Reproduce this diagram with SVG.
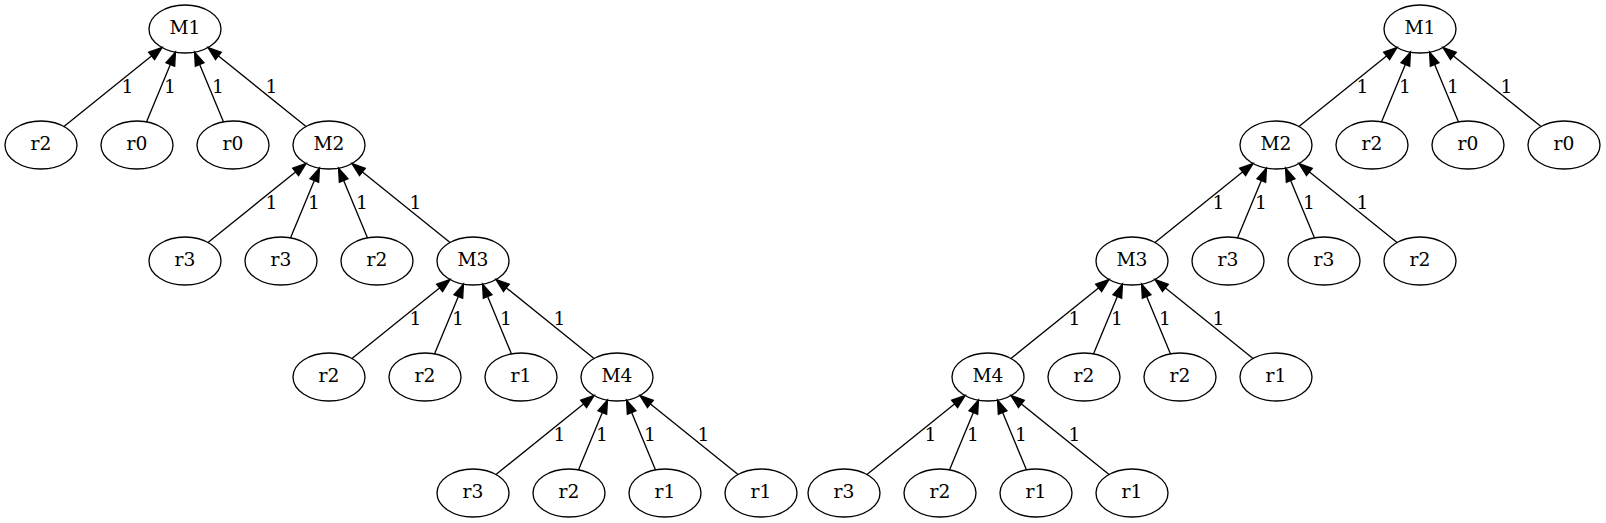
<svg xmlns="http://www.w3.org/2000/svg" width="1606" height="523" viewBox="0 0 1606 523">
<style>
.n ellipse{fill:none;stroke:#000;stroke-width:1.33}
.n text,.lbl text{font-family:"DejaVu Serif","Liberation Serif",serif;font-size:18.67px;text-anchor:middle;fill:#000}
.e line{stroke:#000;stroke-width:1.33;marker-end:url(#ah)}
</style>
<defs>
<marker id="ah" markerUnits="userSpaceOnUse" markerWidth="16" markerHeight="12" refX="13.33" refY="4.67" orient="auto" overflow="visible">
<path d="M0,0 L13.33,4.67 L0,9.33 z" fill="#000" stroke="#000" stroke-width="1.33"/>
</marker>
</defs>
<rect width="1606" height="523" fill="#fff"/>
<g id="edges" class="e">
<line x1="63.95" y1="126.51" x2="162.05" y2="47.49"/>
<line x1="146.57" y1="121.87" x2="175.43" y2="52.13"/>
<line x1="223.43" y1="121.87" x2="194.57" y2="52.13"/>
<line x1="306.05" y1="126.51" x2="207.95" y2="47.49"/>
<line x1="207.95" y1="242.51" x2="306.05" y2="163.49"/>
<line x1="290.57" y1="237.87" x2="319.43" y2="168.13"/>
<line x1="367.43" y1="237.87" x2="338.57" y2="168.13"/>
<line x1="450.05" y1="242.51" x2="351.95" y2="163.49"/>
<line x1="351.95" y1="358.51" x2="450.05" y2="279.49"/>
<line x1="434.57" y1="353.87" x2="463.43" y2="284.13"/>
<line x1="511.43" y1="353.87" x2="482.57" y2="284.13"/>
<line x1="594.05" y1="358.51" x2="495.95" y2="279.49"/>
<line x1="495.95" y1="474.51" x2="594.05" y2="395.49"/>
<line x1="578.57" y1="469.87" x2="607.43" y2="400.13"/>
<line x1="655.43" y1="469.87" x2="626.57" y2="400.13"/>
<line x1="738.05" y1="474.51" x2="639.95" y2="395.49"/>
<line x1="1298.95" y1="126.51" x2="1397.05" y2="47.49"/>
<line x1="1381.57" y1="121.87" x2="1410.43" y2="52.13"/>
<line x1="1458.43" y1="121.87" x2="1429.57" y2="52.13"/>
<line x1="1541.05" y1="126.51" x2="1442.95" y2="47.49"/>
<line x1="1154.95" y1="242.51" x2="1253.05" y2="163.49"/>
<line x1="1237.57" y1="237.87" x2="1266.43" y2="168.13"/>
<line x1="1314.43" y1="237.87" x2="1285.57" y2="168.13"/>
<line x1="1397.05" y1="242.51" x2="1298.95" y2="163.49"/>
<line x1="1010.95" y1="358.51" x2="1109.05" y2="279.49"/>
<line x1="1093.57" y1="353.87" x2="1122.43" y2="284.13"/>
<line x1="1170.43" y1="353.87" x2="1141.57" y2="284.13"/>
<line x1="1253.05" y1="358.51" x2="1154.95" y2="279.49"/>
<line x1="866.95" y1="474.51" x2="965.05" y2="395.49"/>
<line x1="949.57" y1="469.87" x2="978.43" y2="400.13"/>
<line x1="1026.43" y1="469.87" x2="997.57" y2="400.13"/>
<line x1="1109.05" y1="474.51" x2="1010.95" y2="395.49"/>
</g>
<g id="edge-labels" class="lbl">
<text x="127.5" y="92.5">1</text><text x="170" y="92.5">1</text><text x="218" y="92.5">1</text><text x="271.5" y="92.5">1</text>
<text x="271.5" y="208.5">1</text><text x="314" y="208.5">1</text><text x="362" y="208.5">1</text><text x="415.5" y="208.5">1</text>
<text x="415.5" y="324.5">1</text><text x="458" y="324.5">1</text><text x="506" y="324.5">1</text><text x="559.5" y="324.5">1</text>
<text x="559.5" y="440.5">1</text><text x="602" y="440.5">1</text><text x="650" y="440.5">1</text><text x="703.5" y="440.5">1</text>
<text x="1362.5" y="92.5">1</text><text x="1405" y="92.5">1</text><text x="1453" y="92.5">1</text><text x="1506.5" y="92.5">1</text>
<text x="1218.5" y="208.5">1</text><text x="1261" y="208.5">1</text><text x="1309" y="208.5">1</text><text x="1362.5" y="208.5">1</text>
<text x="1074.5" y="324.5">1</text><text x="1117" y="324.5">1</text><text x="1165" y="324.5">1</text><text x="1218.5" y="324.5">1</text>
<text x="930.5" y="440.5">1</text><text x="973" y="440.5">1</text><text x="1021" y="440.5">1</text><text x="1074.5" y="440.5">1</text>
</g>
<g id="L_M1" class="n"><ellipse cx="185" cy="29" rx="36" ry="24"/><text x="185" y="34.3">M1</text></g>
<g id="L_r2a" class="n"><ellipse cx="41" cy="145" rx="36" ry="24"/><text x="41" y="150.3">r2</text></g>
<g id="L_r0a" class="n"><ellipse cx="137" cy="145" rx="36" ry="24"/><text x="137" y="150.3">r0</text></g>
<g id="L_r0b" class="n"><ellipse cx="233" cy="145" rx="36" ry="24"/><text x="233" y="150.3">r0</text></g>
<g id="L_M2" class="n"><ellipse cx="329" cy="145" rx="36" ry="24"/><text x="329" y="150.3">M2</text></g>
<g id="L_r3a" class="n"><ellipse cx="185" cy="261" rx="36" ry="24"/><text x="185" y="266.3">r3</text></g>
<g id="L_r3b" class="n"><ellipse cx="281" cy="261" rx="36" ry="24"/><text x="281" y="266.3">r3</text></g>
<g id="L_r2b" class="n"><ellipse cx="377" cy="261" rx="36" ry="24"/><text x="377" y="266.3">r2</text></g>
<g id="L_M3" class="n"><ellipse cx="473" cy="261" rx="36" ry="24"/><text x="473" y="266.3">M3</text></g>
<g id="L_r2c" class="n"><ellipse cx="329" cy="377" rx="36" ry="24"/><text x="329" y="382.3">r2</text></g>
<g id="L_r2d" class="n"><ellipse cx="425" cy="377" rx="36" ry="24"/><text x="425" y="382.3">r2</text></g>
<g id="L_r1a" class="n"><ellipse cx="521" cy="377" rx="36" ry="24"/><text x="521" y="382.3">r1</text></g>
<g id="L_M4" class="n"><ellipse cx="617" cy="377" rx="36" ry="24"/><text x="617" y="382.3">M4</text></g>
<g id="L_r3c" class="n"><ellipse cx="473" cy="493" rx="36" ry="24"/><text x="473" y="498.3">r3</text></g>
<g id="L_r2e" class="n"><ellipse cx="569" cy="493" rx="36" ry="24"/><text x="569" y="498.3">r2</text></g>
<g id="L_r1b" class="n"><ellipse cx="665" cy="493" rx="36" ry="24"/><text x="665" y="498.3">r1</text></g>
<g id="L_r1c" class="n"><ellipse cx="761" cy="493" rx="36" ry="24"/><text x="761" y="498.3">r1</text></g>
<g id="R_M1" class="n"><ellipse cx="1420" cy="29" rx="36" ry="24"/><text x="1420" y="34.3">M1</text></g>
<g id="R_M2" class="n"><ellipse cx="1276" cy="145" rx="36" ry="24"/><text x="1276" y="150.3">M2</text></g>
<g id="R_r2a" class="n"><ellipse cx="1372" cy="145" rx="36" ry="24"/><text x="1372" y="150.3">r2</text></g>
<g id="R_r0a" class="n"><ellipse cx="1468" cy="145" rx="36" ry="24"/><text x="1468" y="150.3">r0</text></g>
<g id="R_r0b" class="n"><ellipse cx="1564" cy="145" rx="36" ry="24"/><text x="1564" y="150.3">r0</text></g>
<g id="R_M3" class="n"><ellipse cx="1132" cy="261" rx="36" ry="24"/><text x="1132" y="266.3">M3</text></g>
<g id="R_r3a" class="n"><ellipse cx="1228" cy="261" rx="36" ry="24"/><text x="1228" y="266.3">r3</text></g>
<g id="R_r3b" class="n"><ellipse cx="1324" cy="261" rx="36" ry="24"/><text x="1324" y="266.3">r3</text></g>
<g id="R_r2b" class="n"><ellipse cx="1420" cy="261" rx="36" ry="24"/><text x="1420" y="266.3">r2</text></g>
<g id="R_M4" class="n"><ellipse cx="988" cy="377" rx="36" ry="24"/><text x="988" y="382.3">M4</text></g>
<g id="R_r2c" class="n"><ellipse cx="1084" cy="377" rx="36" ry="24"/><text x="1084" y="382.3">r2</text></g>
<g id="R_r2d" class="n"><ellipse cx="1180" cy="377" rx="36" ry="24"/><text x="1180" y="382.3">r2</text></g>
<g id="R_r1a" class="n"><ellipse cx="1276" cy="377" rx="36" ry="24"/><text x="1276" y="382.3">r1</text></g>
<g id="R_r3c" class="n"><ellipse cx="844" cy="493" rx="36" ry="24"/><text x="844" y="498.3">r3</text></g>
<g id="R_r2e" class="n"><ellipse cx="940" cy="493" rx="36" ry="24"/><text x="940" y="498.3">r2</text></g>
<g id="R_r1b" class="n"><ellipse cx="1036" cy="493" rx="36" ry="24"/><text x="1036" y="498.3">r1</text></g>
<g id="R_r1c" class="n"><ellipse cx="1132" cy="493" rx="36" ry="24"/><text x="1132" y="498.3">r1</text></g>
</svg>
